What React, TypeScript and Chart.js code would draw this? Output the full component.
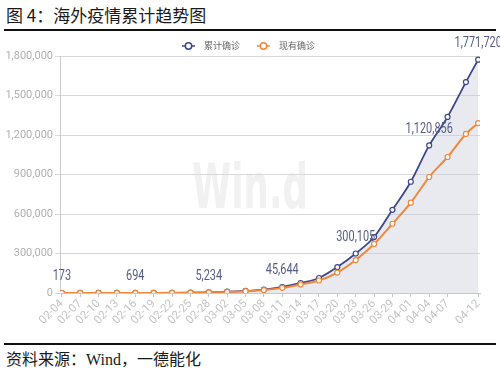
import React, { useEffect, useRef } from "react";
import { Chart, registerables } from "chart.js";

Chart.register(...registerables);

const dates = ["02-04","02-07","02-10","02-13","02-16","02-19","02-22","02-25","02-28","03-02","03-05","03-08","03-11","03-14","03-17","03-20","03-23","03-26","03-29","04-01","04-04","04-07","04-10","04-12"];
const cumulative = [173, 270, 380, 500, 694, 1000, 1550, 2600, 5234, 9900, 16000, 26000, 45644, 76000, 114000, 197000, 300105, 425000, 632000, 845000, 1120856, 1337000, 1602000, 1771720];
const active = [170, 255, 350, 440, 600, 870, 1300, 2200, 4600, 8500, 13500, 22000, 39000, 65000, 95000, 155000, 250000, 372000, 526000, 686000, 881000, 1033000, 1208000, 1290000];
const tickLabels = ["02-04","02-07","02-10","02-13","02-16","02-19","02-22","02-25","02-28","03-02","03-05","03-08","03-11","03-14","03-17","03-20","03-23","03-26","03-29","04-01","04-04","04-07","04-12"];
const labeledDates = ["02-04","02-16","02-28","03-11","03-23","04-04","04-12"];
const yTicks = [0, 300000, 600000, 900000, 1200000, 1500000, 1800000];
const seriesNames = ["累计确诊", "现有确诊"];

const BLUE = "#3d4789";
const ORANGE = "#f0883c";

function dayOf(s: string): number {
  const [m, d] = s.split("-").map(Number);
  return (Date.UTC(2020, m - 1, d) - Date.UTC(2020, 1, 4)) / 86400000;
}

const overlay = {
  id: "overlay",
  beforeDraw(chart: any) {
    const ctx = chart.ctx;
    ctx.save();
    ctx.font = "bold 62px 'DejaVu Sans'";
    ctx.fillStyle = "#f1f1f1";
    ctx.textBaseline = "alphabetic";
    ctx.textAlign = "left";
    const w = ctx.measureText("Win.d").width;
    ctx.translate(192, 175);
    ctx.scale(116 / w, 1);
    ctx.fillText("Win.d", 0, 0);
    ctx.restore();
  },
  afterDatasetsDraw(chart: any) {
    const ctx = chart.ctx;
    const meta = chart.getDatasetMeta(1);
    ctx.save();
    ctx.font = "14px Roboto";
    ctx.fillStyle = "#555d86";
    ctx.textAlign = "center";
    ctx.textBaseline = "middle";
    labeledDates.forEach((d) => {
      const i = dates.indexOf(d);
      const el = meta.data[i];
      if (!el) return;
      ctx.save();
      ctx.translate(el.x, el.y - 16);
      ctx.scale(0.78, 1);
      ctx.fillText(cumulative[i].toLocaleString("en-US"), 0, 0);
      ctx.restore();
    });
    ctx.restore();
  },
  afterDraw(chart: any) {
    const ctx = chart.ctx;
    ctx.save();
    const y = 13;
    const items = [
      { x: 182, color: BLUE, text: seriesNames[0] },
      { x: 257, color: ORANGE, text: seriesNames[1] },
    ];
    items.forEach((it) => {
      ctx.strokeStyle = it.color;
      ctx.lineWidth = 1.5;
      ctx.beginPath();
      ctx.moveTo(it.x, y);
      ctx.lineTo(it.x + 13, y);
      ctx.stroke();
      ctx.beginPath();
      ctx.arc(it.x + 6.5, y, 3.2, 0, Math.PI * 2);
      ctx.fillStyle = "#fff";
      ctx.fill();
      ctx.stroke();
      ctx.fillStyle = "#666";
      ctx.font = "9px 'Noto Sans CJK SC'";
      ctx.textAlign = "left";
      ctx.textBaseline = "middle";
      ctx.fillText(it.text, it.x + 22, y);
    });
    ctx.restore();
  },
};

export default function App() {
  const ref = useRef<HTMLCanvasElement>(null);
  useEffect(() => {
    if (!ref.current) return;
    const xs = dates.map(dayOf);
    const chart = new Chart(ref.current, {
      type: "line",
      data: {
        datasets: [
          {
            label: seriesNames[1],
            data: xs.map((x, i) => ({ x, y: active[i] })),
            borderColor: ORANGE,
            backgroundColor: "#fff",
            pointBackgroundColor: "#fff",
            pointBorderColor: ORANGE,
            pointRadius: 2.5,
            pointBorderWidth: 1.2,
            borderWidth: 2,
            cubicInterpolationMode: "monotone",
            fill: false,
          },
          {
            label: seriesNames[0],
            data: xs.map((x, i) => ({ x, y: cumulative[i] })),
            borderColor: BLUE,
            backgroundColor: "rgba(200,202,216,0.4)",
            pointBackgroundColor: "#fff",
            pointBorderColor: BLUE,
            pointRadius: 2.5,
            pointBorderWidth: 1.2,
            borderWidth: 1.8,
            cubicInterpolationMode: "monotone",
            fill: "origin",
          },
        ],
      },
      options: {
        animation: false,
        responsive: false,
        maintainAspectRatio: false,
        layout: { padding: { top: 23, right: 20, left: 0, bottom: 0 } },
        plugins: {
          legend: { display: false },
          tooltip: { enabled: false },
          filler: { drawTime: "beforeDatasetsDraw" },
        },
        scales: {
          x: {
            type: "linear",
            min: -0.3,
            max: 68.3,
            afterBuildTicks: (s: any) => {
              s.ticks = tickLabels.map((l) => ({ value: dayOf(l) }));
            },
            afterFit: (s: any) => {
              s.height = 48;
            },
            grid: { drawOnChartArea: false, drawTicks: true, tickLength: 4, color: "#c8c8c8" },
            border: { color: "#c8c8c8" },
            ticks: {
              autoSkip: false,
              minRotation: 45,
              maxRotation: 45,
              padding: 0,
              color: "#c4c4c4",
              font: { family: "Roboto", size: 11.5 },
              callback: (v: any) => {
                const l = tickLabels.find((t) => dayOf(t) === Number(v));
                return l ?? "";
              },
            },
          },
          y: {
            min: 0,
            max: 1800000,
            afterBuildTicks: (s: any) => {
              s.ticks = yTicks.map((v) => ({ value: v }));
            },
            afterFit: (s: any) => {
              s.width = 60;
            },
            grid: { color: "#d8d8d8", tickLength: 5, drawTicks: true },
            border: { color: "#cccccc" },
            ticks: {
              padding: 2,
              color: "#b0b0b0",
              font: { family: "Roboto", size: 11 },
              callback: (v: any) => Number(v).toLocaleString("en-US"),
            },
          },
        },
      },
      plugins: [overlay],
    } as any);
    return () => chart.destroy();
  }, []);

  return (
    <div style={{ position: "absolute", left: 0, top: 0, width: 500, height: 373, background: "#fff", overflow: "hidden" }}>
      <div style={{ position: "absolute", left: 6, top: 4, fontFamily: "'Noto Sans CJK SC', sans-serif", fontSize: 17, lineHeight: "22px", color: "#1a1a1a", whiteSpace: "pre" }}>
        {"图 4：海外疫情累计趋势图"}
      </div>
      <div style={{ position: "absolute", left: 4, top: 29, width: 492, height: 2, background: "#111" }} />
      <canvas ref={ref} width={500} height={308} style={{ position: "absolute", left: 0, top: 33, width: 500, height: 308 }} />
      <div style={{ position: "absolute", left: 4, top: 343, width: 492, height: 2, background: "#111" }} />
      <div style={{ position: "absolute", left: 6, top: 349, fontFamily: "'Liberation Serif', 'Noto Sans CJK SC', serif", fontSize: 16, lineHeight: "22px", color: "#1a1a1a" }}>
        资料来源：Wind，一德能化
      </div>
    </div>
  );
}
